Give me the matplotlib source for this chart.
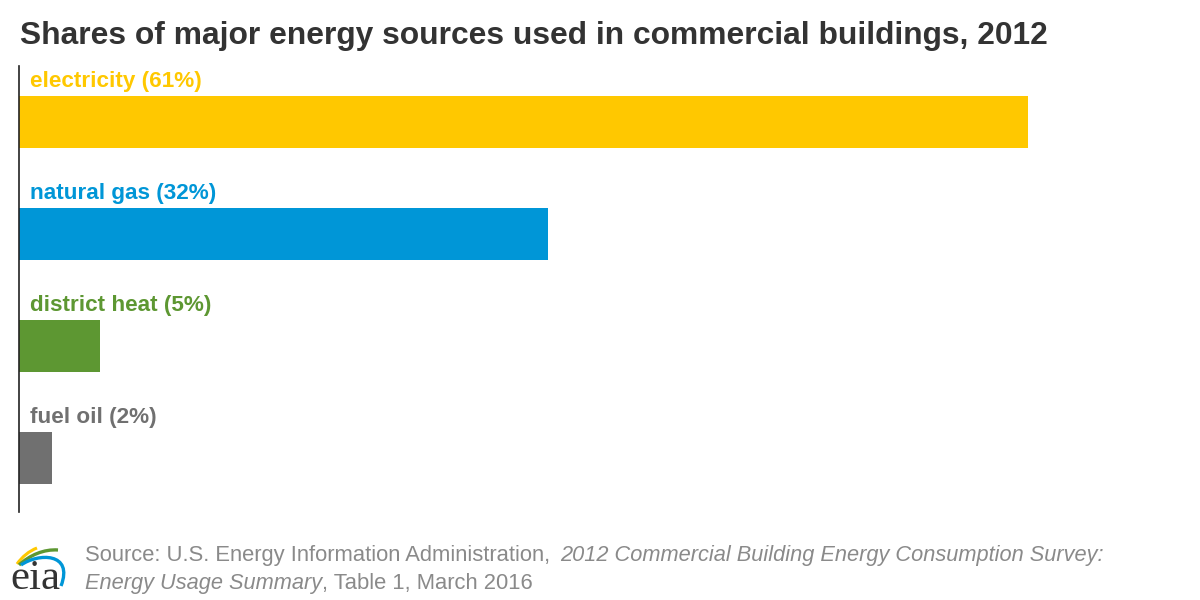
import matplotlib
matplotlib.use('Agg')
import matplotlib.pyplot as plt
import numpy as np
from matplotlib.patches import PathPatch
from matplotlib.path import Path

plt.rcParams['font.family'] = ['Liberation Sans', 'DejaVu Sans']

labels = ['electricity (61%)', 'natural gas (32%)', 'district heat (5%)', 'fuel oil (2%)']
shares = [61, 32, 4.9, 2]
colors = ['#ffc800', '#0096d7', '#5d9732', '#707070']

fig = plt.figure(figsize=(12, 6), dpi=100)
ax = fig.add_axes([19 / 1200, 1 - 512 / 600, 1100 / 1200, 446 / 600])

# pixel-like y axis so the bars keep their spacing
y_pos = np.array([122, 234, 346, 458]) - 66
ax.barh(y_pos, shares, height=52, color=colors, left=0)
ax.set_xlim(0, 1100 / (1009 / 61))
ax.set_ylim(446, 0)
ax.set_xticks([])
ax.set_yticks([])
for side in ['top', 'right', 'bottom']:
    ax.spines[side].set_visible(False)
ax.spines['left'].set_color('#222222')
ax.spines['left'].set_linewidth(1.2)

for y, label, color in zip(y_pos, labels, colors):
    ax.annotate(label, (0, y - 26), xytext=(11.5, 4.5), textcoords='offset pixels',
                color=color, fontsize=16.2, fontweight='bold', va='bottom', ha='left')

fig.text(20 / 1200, 1 - 36 / 600, 'Shares of major energy sources used in commercial buildings, 2012',
         fontsize=22.9, fontweight='bold', color='#333333', va='center', ha='left')

src_color = '#8a8a8a'
reg_size = 15.85
ital_size = 15.68
y1 = 1 - 555.5 / 600
y2 = 1 - 583.5 / 600
line1a = fig.text(85 / 1200, y1, 'Source: U.S. Energy Information Administration, ',
                  fontsize=reg_size, color=src_color, va='center')
fig.canvas.draw()
bb = line1a.get_window_extent()
fig.text((bb.x1 + 4) / 1200, y1, '2012 Commercial Building Energy Consumption Survey:',
         fontsize=ital_size, color=src_color, va='center', style='italic')
line2a = fig.text(85 / 1200, y2, 'Energy Usage Summary',
                  fontsize=ital_size, color=src_color, va='center', style='italic')
bb = line2a.get_window_extent()
fig.text(bb.x1 / 1200, y2, ', Table 1, March 2016',
         fontsize=reg_size, color=src_color, va='center')

# eia logo
logo = fig.add_axes([0, 0, 1, 1], facecolor='none')
logo.set_xlim(0, 1200)
logo.set_ylim(600, 0)
logo.axis('off')
logo.text(35, 589, 'eia', fontsize=31, family='Liberation Serif', color='#333333',
          va='baseline', ha='center')
curve = [Path.MOVETO, Path.CURVE4, Path.CURVE4, Path.CURVE4]
logo.add_patch(PathPatch(Path([(17, 564), (22, 557), (29, 551), (37, 548)], curve),
                         fc='none', ec='#ffc800', lw=2.2))
logo.add_patch(PathPatch(Path([(19, 565), (30, 555), (44, 549), (58, 550)], curve),
                         fc='none', ec='#5d9732', lw=2.4))
logo.add_patch(PathPatch(Path([(21, 565), (38, 553), (74, 552), (61, 586)], curve),
                         fc='none', ec='#0096d7', lw=2.4))

fig.savefig('out.png', dpi=100)
